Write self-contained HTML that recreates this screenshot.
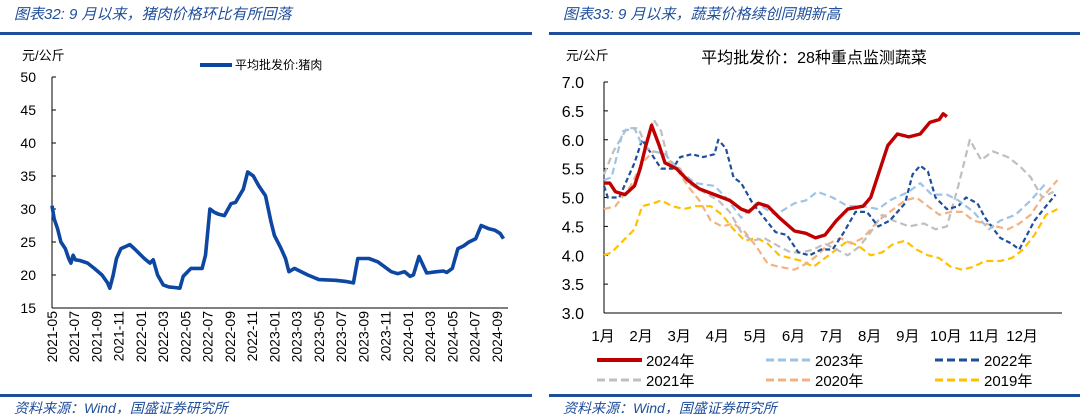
<!DOCTYPE html>
<html><head><meta charset="utf-8">
<style>
body{margin:0;width:1080px;height:414px;background:#fff;overflow:hidden;font-family:"Liberation Sans","Noto Sans CJK SC",sans-serif}
svg{display:block}
</style></head>
<body>
<svg id="s" width="1080" height="414" xmlns="http://www.w3.org/2000/svg">
<g font-family="Liberation Sans, Noto Sans CJK SC, sans-serif" font-style="italic" fill="#1f4e9a">
<text x="14" y="19" font-size="15">图表32:  9 月以来，猪肉价格环比有所回落</text>
<text x="563" y="19" font-size="15">图表33:  9 月以来，蔬菜价格续创同期新高</text>
<text x="14" y="413" font-size="14">资料来源：Wind，国盛证券研究所</text>
<text x="563" y="413" font-size="14">资料来源：Wind，国盛证券研究所</text>
</g>
<rect x="0" y="32" width="532" height="3" fill="#1f4e9a"/>
<rect x="549" y="32" width="531" height="3" fill="#1f4e9a"/>
<rect x="0" y="394" width="532" height="3" fill="#1f4e9a"/>
<rect x="549" y="394" width="531" height="3" fill="#1f4e9a"/>
<g id="L"></g><g id="R"></g>
</svg>
<script>
// Pork chart data (months since 2021-05, price)
const porkMonths=[0,0.2,0.5,0.8,1.2,1.5,1.7,1.9,2.1,2.5,3.2,3.8,4.5,5.0,5.2,5.5,5.8,6.2,6.6,7.0,7.4,7.7,8.3,8.8,9.1,9.5,10,10.5,11,11.5,11.8,12.5,13.5,13.8,14.2,14.6,15.0,15.5,16.1,16.5,17.2,17.6,18.1,18.6,19.2,19.7,20,20.6,21,21.3,21.8,23,24,25.5,26.5,27.1,27.5,28.5,29.3,30.5,31.1,31.7,32.2,32.5,33,33.7,34.6,35.2,35.5,36,36.5,37,37.5,38.1,38.6,39.3,39.8,40.3,40.6];
const porkValues=[30.5,28.5,27,25,24,22.5,21.8,23,22.3,22.2,21.8,21,20,18.8,18,20,22.5,24,24.3,24.6,24,23.5,22.5,21.8,22.3,20,18.5,18.2,18.1,18,19.8,21,21,23,30,29.5,29.2,29,30.8,31,33,35.6,35,33.5,32,28,26,24,22.5,20.5,21,20,19.3,19.2,19,18.8,22.5,22.5,22,20.5,20.2,20.5,19.8,20,22.8,20.3,20.5,20.6,20.4,21,24,24.4,25,25.5,27.5,27,26.8,26.3,25.5];
const porkTicks=[15,20,25,30,35,40,45,50];
const porkXLabels=["2021-05","2021-07","2021-09","2021-11","2022-01","2022-03","2022-05","2022-07","2022-09","2022-11","2023-01","2023-03","2023-05","2023-07","2023-09","2023-11","2024-01","2024-03","2024-05","2024-07","2024-09"];

// Vegetable chart data (x = month index 0..12, value)
const vegYears=["2024年","2023年","2022年","2021年","2020年","2019年"];
const v2024x=[0,0.15,0.3,0.55,0.8,0.95,1.1,1.25,1.45,1.6,1.9,2.2,2.5,2.9,3.3,3.6,3.8,4.05,4.3,4.6,5.0,5.3,5.55,5.8,6.1,6.4,6.8,7.0,7.2,7.45,7.7,8.0,8.3,8.55,8.8,8.9,9.0];
const v2024y=[5.25,5.25,5.1,5.05,5.2,5.5,5.9,6.25,5.9,5.6,5.5,5.3,5.15,5.05,4.95,4.8,4.75,4.9,4.85,4.65,4.42,4.38,4.3,4.35,4.6,4.8,4.85,5.0,5.4,5.9,6.1,6.05,6.1,6.3,6.35,6.45,6.4];
const v2023x=[0,0.2,0.5,0.8,1.0,1.3,1.6,2.0,2.4,2.9,3.2,3.6,4.0,4.5,5.0,5.3,5.6,6.0,6.4,6.8,7.2,7.5,8.0,8.3,8.6,9.0,9.3,9.7,10.1,10.4,10.8,11.2,11.6];
const v2023y=[5.3,5.35,6.15,6.2,5.9,5.8,5.75,5.45,5.25,5.2,5.0,4.65,4.9,4.7,4.9,4.95,5.1,5.0,4.85,4.85,4.8,4.95,5.1,5.25,5.05,5.05,4.95,4.75,4.45,4.6,4.7,4.95,5.25];
const v2022x=[0,0.1,0.4,0.8,1.0,1.2,1.5,1.8,2.0,2.3,2.6,2.9,3.0,3.2,3.4,3.6,3.9,4.2,4.5,4.8,5.1,5.4,5.7,6.0,6.3,6.6,6.9,7.2,7.5,7.9,8.1,8.3,8.5,8.7,9.0,9.3,9.5,9.8,10.0,10.4,10.7,10.9,11.1,11.3,11.6,11.85];
const v2022y=[5.2,5.0,5.0,5.6,6.0,5.8,5.5,5.5,5.7,5.75,5.7,5.75,6.0,5.85,5.35,5.25,4.9,4.65,4.4,4.35,4.05,4.0,4.1,4.1,4.4,4.75,4.75,4.5,4.6,4.9,5.4,5.55,5.45,5.0,4.8,4.85,5.0,4.9,4.65,4.3,4.2,4.1,4.35,4.6,4.85,5.05];
const v2021x=[0,0.25,0.6,0.9,1.1,1.3,1.5,1.7,2.0,2.2,2.6,3.0,3.3,3.6,3.9,4.2,4.6,4.9,5.2,5.5,5.8,6.1,6.4,6.7,7.0,7.3,7.6,8.0,8.4,8.7,9.0,9.3,9.6,9.9,10.2,10.6,10.9,11.2,11.5,11.8];
const v2021y=[5.4,5.8,6.2,6.2,5.9,6.35,6.15,5.6,5.5,5.25,5.1,4.95,4.75,4.4,4.25,4.3,4.15,4.05,4.05,4.1,4.2,4.1,4.0,4.15,4.4,4.7,4.6,4.5,4.55,4.45,4.5,5.2,6.0,5.65,5.8,5.7,5.55,5.35,5.0,5.1];
const v2020x=[0,0.3,0.7,1.0,1.3,1.6,1.9,2.2,2.5,2.8,3.1,3.4,3.7,4.0,4.3,4.6,5.0,5.3,5.6,5.9,6.2,6.5,6.8,7.2,7.5,7.9,8.2,8.5,8.8,9.1,9.4,9.7,10.0,10.3,10.6,10.9,11.2,11.5,11.9];
const v2020y=[4.8,4.85,5.2,5.6,5.8,5.75,5.5,5.2,4.95,4.6,4.5,4.55,4.4,4.15,3.85,3.8,3.75,3.85,4.0,4.2,4.3,4.2,4.3,4.6,4.75,4.95,5.0,4.85,4.7,4.75,4.75,4.6,4.55,4.5,4.45,4.55,4.7,5.0,5.3];
const v2019x=[0,0.2,0.5,0.8,1.0,1.3,1.5,1.8,2.1,2.4,2.8,3.1,3.4,3.7,4.0,4.3,4.6,4.9,5.2,5.5,5.8,6.1,6.4,6.7,7.0,7.3,7.6,7.9,8.2,8.5,8.8,9.1,9.4,9.7,10.0,10.4,10.7,11.0,11.3,11.6,11.9];
const v2019y=[4.0,4.05,4.25,4.45,4.85,4.9,4.95,4.85,4.8,4.85,4.85,4.7,4.45,4.25,4.3,4.2,4.0,3.95,3.9,3.8,3.95,4.1,4.25,4.15,4.0,4.05,4.2,4.25,4.1,4.0,3.95,3.8,3.75,3.8,3.9,3.9,3.95,4.1,4.35,4.7,4.8];
const vegTicks=[3.0,3.5,4.0,4.5,5.0,5.5,6.0,6.5,7.0];
const vegMonths=["1月","2月","3月","4月","5月","6月","7月","8月","9月","10月","11月","12月"];

const NS="http://www.w3.org/2000/svg";
function mk(tag,attrs,parent,txt){const e=document.createElementNS(NS,tag);for(const k in attrs)e.setAttribute(k,attrs[k]);if(txt!==undefined)e.textContent=txt;parent.appendChild(e);return e;}

// ---- Left chart ----
const L=document.getElementById('L');
const lx=m=>52+m*11.12, ly=v=>308-(v-15)*(231/35);
let a=mk('line',{x1:52,y1:77,x2:52,y2:308,stroke:'#000','stroke-width':1},L);


a=mk('line',{x1:52,y1:308,x2:508,y2:308,stroke:'#000','stroke-width':1},L);


porkTicks.forEach(t=>{
  mk('line',{x1:52,y1:ly(t),x2:56,y2:ly(t),stroke:'#000'},L);
  const e=mk('text',{x:36,y:ly(t)+5,'font-size':14,'text-anchor':'end',fill:'#000'},L,String(t));
  
  
});
porkXLabels.forEach((s,i)=>{
  const x=lx(i*2);
  const e=mk('text',{transform:`translate(${x+5},311) rotate(-90)`,'font-size':14,'text-anchor':'end',fill:'#000'},L,s);
  
  
});
a=mk('text',{x:22,y:60,'font-size':13,fill:'#000'},L,'元/公斤');


mk('line',{x1:200,y1:65,x2:232,y2:65,stroke:'#0d47a1','stroke-width':4},L);
a=mk('text',{x:235,y:69,'font-size':12,fill:'#000'},L,'平均批发价:猪肉');


a=mk('polyline',{points:porkMonths.map((m,i)=>lx(m).toFixed(1)+','+ly(porkValues[i]).toFixed(1)).join(' '),fill:'none',stroke:'#0d47a1','stroke-width':3.6,'stroke-linejoin':'round'},L);



// ---- Right chart ----
const R=document.getElementById('R');
const rx=m=>604+m*38.1, ry=v=>313-(v-3)*(231/4);
a=mk('line',{x1:604,y1:82,x2:604,y2:313,stroke:'#000'},R);


a=mk('line',{x1:604,y1:313,x2:1062,y2:313,stroke:'#000'},R);


vegTicks.forEach(t=>{
  mk('line',{x1:604,y1:ry(t),x2:608,y2:ry(t),stroke:'#000'},R);
  const e=mk('text',{x:584,y:ry(t)+6,'font-size':16,'text-anchor':'end',fill:'#000'},R,t.toFixed(1));
  
  
});
vegMonths.forEach((s,i)=>{
  const e=mk('text',{x:rx(i)-1,y:341,'font-size':15,'text-anchor':'middle',fill:'#000'},R,s);
  
  
});
a=mk('text',{x:566,y:60,'font-size':13,fill:'#000'},R,'元/公斤');


a=mk('text',{x:814,y:63,'font-size':16,'text-anchor':'middle',fill:'#000'},R,'平均批发价：28种重点监测蔬菜');


const series=[
 {x:v2019x,y:v2019y,c:'#ffc000',d:'7,4',w:2.2,n:5},
 {x:v2020x,y:v2020y,c:'#f4b183',d:'7,4',w:2.2,n:4},
 {x:v2021x,y:v2021y,c:'#bfbfbf',d:'7,4',w:2.2,n:3},
 {x:v2022x,y:v2022y,c:'#1f4e9a',d:'5,3',w:2.2,n:2},
 {x:v2023x,y:v2023y,c:'#9dc3e6',d:'7,4',w:2.2,n:1},
 {x:v2024x,y:v2024y,c:'#c00000',d:'',w:3.4,n:0}];
series.forEach(s=>{
  const p=mk('polyline',{points:s.x.map((m,i)=>rx(m).toFixed(1)+','+ry(s.y[i]).toFixed(1)).join(' '),fill:'none',stroke:s.c,'stroke-width':s.w,'stroke-dasharray':s.d,'stroke-linejoin':'round'},R);
  
  
  const col=[0,1,2,0,1,2][s.n], row=s.n<3?0:1;
  const lx0=[597,766,935][col], y0=[360,380][row];
  mk('line',{x1:lx0,y1:y0,x2:lx0+45,y2:y0,stroke:s.c,'stroke-width':s.n==0?4:3,'stroke-dasharray':s.n==0?'':'8,4'},R);
  const t=mk('text',{x:lx0+49,y:y0+6,'font-size':15,fill:'#000'},R,vegYears[s.n]);
  
  
});
</script>
</body></html>
